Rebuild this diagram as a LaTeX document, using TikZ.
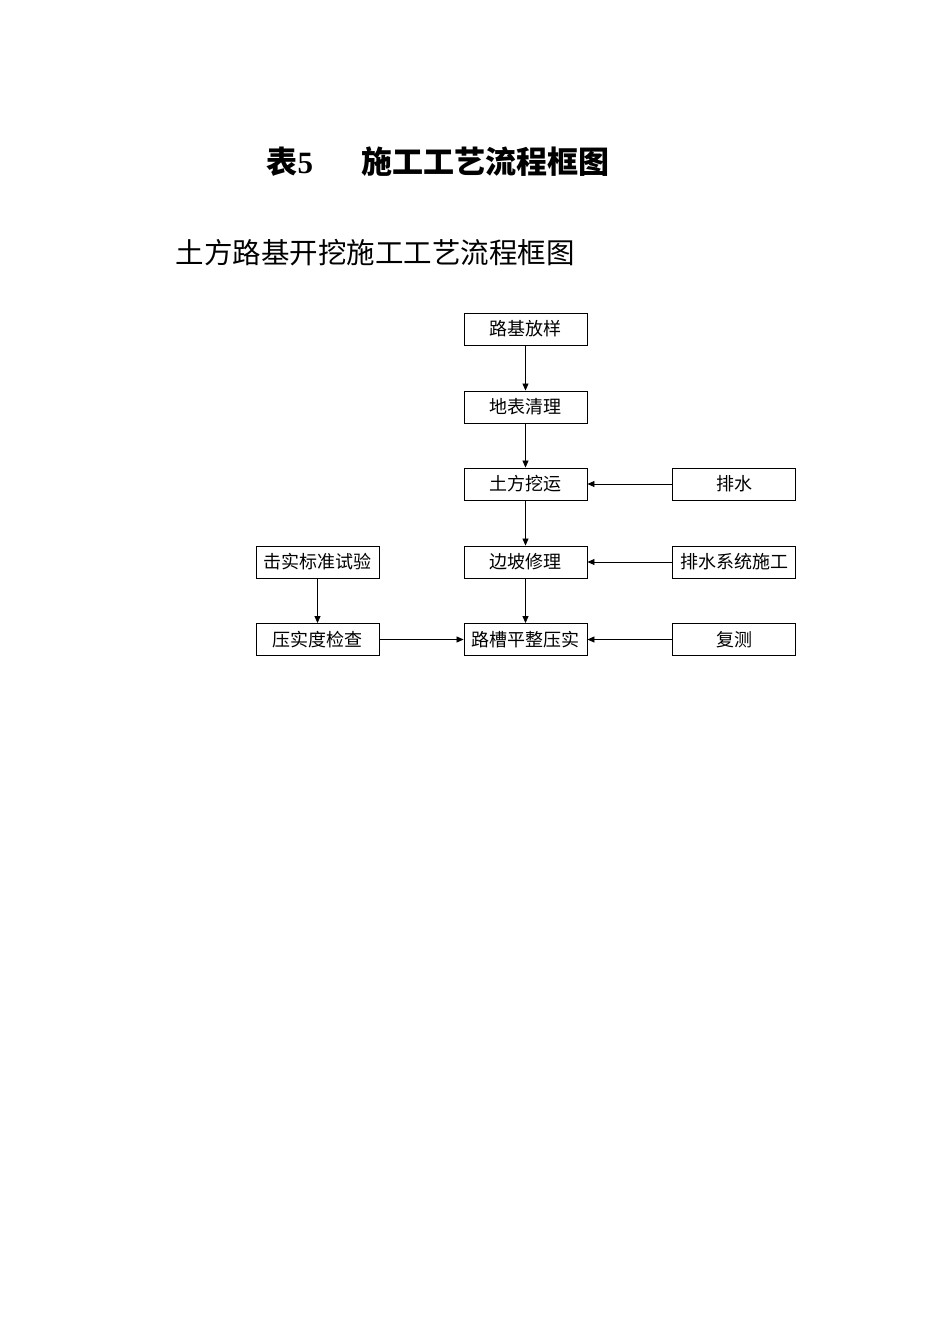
\documentclass[tikz,border=0pt]{standalone}
\usepackage{fontspec}
\setmainfont{Liberation Serif}
\newfontfamily\cjk{Noto Sans CJK SC}
\usetikzlibrary{arrows.meta}
\begin{document}
\begin{tikzpicture}[x=1pt,y=-1pt,
  bx/.style={draw,line width=0.9pt,minimum width=123pt,minimum height=32pt,inner sep=0pt,font=\cjk\fontsize{18}{18}\selectfont},
  ar/.style={-{Triangle[length=7pt,width=6pt]},line width=0.8pt}]
\useasboundingbox (0,0) rectangle (950,1344);
\node[font=\bfseries\fontsize{31}{31}\selectfont,anchor=west] (t) at (263,162) {{\cjk 表}5\hspace{48pt}{\cjk 施工工艺流程框图}};
\node[font=\cjk\fontsize{28.5}{28.5}\selectfont,anchor=west] (s) at (172,253) {土方路基开挖施工工艺流程框图};
\node[bx] (a) at (525.5,329) {路基放样};
\node[bx] (b) at (525.5,407) {地表清理};
\node[bx] (c) at (525.5,484) {土方挖运};
\node[bx] (d) at (525.5,562) {边坡修理};
\node[bx] (e) at (525.5,639.5) {路槽平整压实};
\node[bx] (r1) at (734,484) {排水};
\node[bx] (r2) at (734,562) {排水系统施工};
\node[bx] (r3) at (734,639.5) {复测};
\node[bx] (l1) at (317.5,562) {击实标准试验};
\node[bx] (l2) at (317.5,639.5) {压实度检查};
\draw[ar] (a) -- (b);
\draw[ar] (b) -- (c);
\draw[ar] (c) -- (d);
\draw[ar] (d) -- (e);
\draw[ar] (r1) -- (c);
\draw[ar] (r2) -- (d);
\draw[ar] (r3) -- (e);
\draw[ar] (l1) -- (l2);
\draw[ar] (l2) -- (e);
\end{tikzpicture}
\end{document}
